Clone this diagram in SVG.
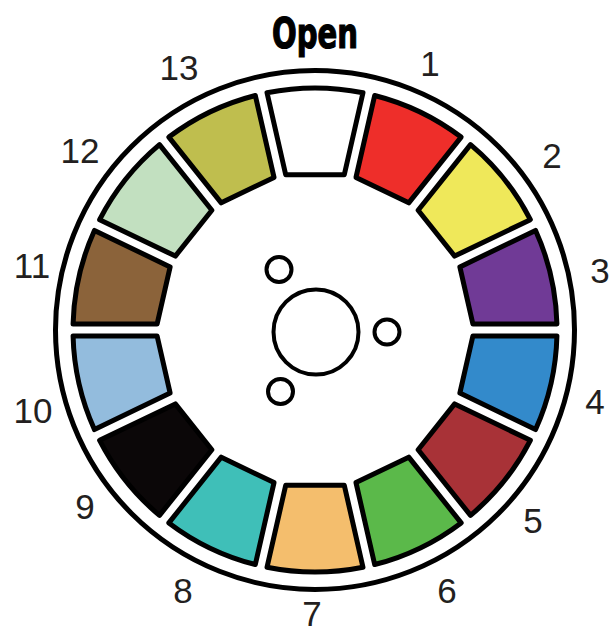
<svg xmlns="http://www.w3.org/2000/svg" xmlns:xlink="http://www.w3.org/1999/xlink" width="612" height="633" viewBox="0 0 612 633">
<style>
.seg{stroke:#000;stroke-width:5;stroke-linejoin:round}
.ring{fill:none;stroke:#000;stroke-width:5}
.hole{fill:#fff;stroke:#000;stroke-width:4}
.num{font-family:"Liberation Sans",Arial,sans-serif;font-size:35px;fill:#231F20;text-anchor:middle}
.title{font-family:"Liberation Sans Narrow","DejaVu Sans Condensed","Liberation Sans",sans-serif;font-stretch:condensed;font-weight:bold;font-size:42px;fill:#000;stroke:#000;stroke-width:1.2;text-anchor:middle}
</style>
<defs>
<path id="seg" d="M -29.28,-155.26 L -47.98,-237.19 A 242 242 0 0 1 47.98,-237.19 L 29.28,-155.26 Z"/>
</defs>
<rect width="612" height="633" fill="#fff"/>
<g id="wheel">
<circle class="ring" cx="315" cy="330" r="259.5"/>
</g>
<g id="segments">
<g id="seg-open"><use xlink:href="#seg" class="seg" fill="#FFFFFF" transform="translate(315 330) rotate(0)"/></g>
<g id="seg-1"><use xlink:href="#seg" class="seg" fill="#EE2E2A" transform="translate(315 330) rotate(25.714)"/></g>
<g id="seg-2"><use xlink:href="#seg" class="seg" fill="#EFE85A" transform="translate(315 330) rotate(51.429)"/></g>
<g id="seg-3"><use xlink:href="#seg" class="seg" fill="#703A96" transform="translate(315 330) rotate(77.143)"/></g>
<g id="seg-4"><use xlink:href="#seg" class="seg" fill="#338ACB" transform="translate(315 330) rotate(102.857)"/></g>
<g id="seg-5"><use xlink:href="#seg" class="seg" fill="#A83237" transform="translate(315 330) rotate(128.571)"/></g>
<g id="seg-6"><use xlink:href="#seg" class="seg" fill="#5BB94A" transform="translate(315 330) rotate(154.286)"/></g>
<g id="seg-7"><use xlink:href="#seg" class="seg" fill="#F4BE6D" transform="translate(315 330) rotate(180)"/></g>
<g id="seg-8"><use xlink:href="#seg" class="seg" fill="#3FBFB8" transform="translate(315 330) rotate(205.714)"/></g>
<g id="seg-9"><use xlink:href="#seg" class="seg" fill="#0B0708" transform="translate(315 330) rotate(231.429)"/></g>
<g id="seg-10"><use xlink:href="#seg" class="seg" fill="#93BCDD" transform="translate(315 330) rotate(257.143)"/></g>
<g id="seg-11"><use xlink:href="#seg" class="seg" fill="#8B633A" transform="translate(315 330) rotate(282.857)"/></g>
<g id="seg-12"><use xlink:href="#seg" class="seg" fill="#C2E0C0" transform="translate(315 330) rotate(308.571)"/></g>
<g id="seg-13"><use xlink:href="#seg" class="seg" fill="#BFBE4E" transform="translate(315 330) rotate(334.286)"/></g>
</g>
<g id="hub">
<circle class="hole" cx="316" cy="332" r="42.5"/>
<circle class="hole" cx="279" cy="269.5" r="12.5"/>
<circle class="hole" cx="387" cy="332" r="12.5"/>
<circle class="hole" cx="280.5" cy="391.5" r="12.5"/>
</g>
<g id="labels">
<text class="title" x="315" y="48" textLength="86" lengthAdjust="spacingAndGlyphs">Open</text>
<text class="num" x="430" y="76">1</text>
<text class="num" x="552" y="168">2</text>
<text class="num" x="600" y="283">3</text>
<text class="num" x="595" y="414">4</text>
<text class="num" x="533" y="533">5</text>
<text class="num" x="447" y="603">6</text>
<text class="num" x="312" y="626" font-size="33">7</text>
<text class="num" x="183" y="603">8</text>
<text class="num" x="85" y="519">9</text>
<text class="num" x="33" y="423">10</text>
<text class="num" x="32" y="278">11</text>
<text class="num" x="80" y="163">12</text>
<text class="num" x="179" y="80">13</text>
</g>
</svg>
